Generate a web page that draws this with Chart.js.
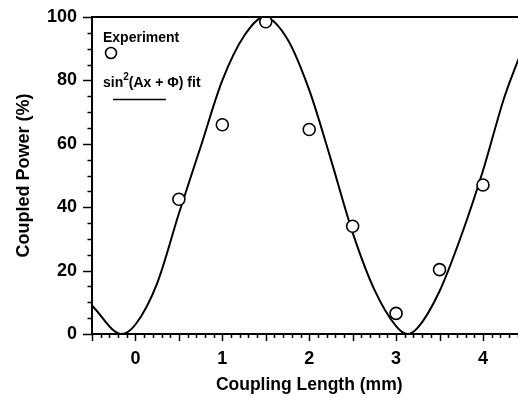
<!DOCTYPE html>
<html>
<head>
<meta charset="utf-8">
<script src="https://cdn.jsdelivr.net/npm/chart.js@4/dist/chart.umd.min.js"></script>
<style>
  html, body { margin: 0; padding: 0; background: #fff; overflow: hidden; }
  #grafico { display: block; }
</style>
</head>
<body>
<canvas id="grafico" width="534" height="398"></canvas>
<script>
// Medições (comprimento de acoplamento em mm, potência acoplada em %)
const expX = [0.5, 1.0, 1.5, 2.0, 2.5, 3.0, 3.5, 4.0];
const expY = [42.5, 66, 98.5, 64.5, 34, 6.5, 20.3, 47];

// Curva de ajuste sin^2 lida ponto a ponto
const fitX = [-0.5, -0.16, 0, 0.25, 0.5, 0.75, 1, 1.25, 1.485, 1.75, 2, 2.25, 2.5, 2.75, 3, 3.13, 3.25, 3.5, 3.75, 4, 4.25, 4.5];
const fitY = [9, 0, 3, 16, 38, 59, 80, 94, 100, 93, 77, 55, 32, 14, 2.5, 0, 2, 13.5, 31, 51.5, 75, 93];

const xTicks = [0, 1, 2, 3, 4];
const yTicks = [0, 20, 40, 60, 80, 100];

const fonte = '"Liberation Sans", Arial, Helvetica, sans-serif';

// Marcas menores dos eixos, moldura superior e legenda
const extras = {
  id: 'extras',
  afterDraw(chart) {
    const ctx = chart.ctx;
    const area = chart.chartArea;
    const sx = chart.scales.x;
    const sy = chart.scales.y;
    ctx.save();
    ctx.strokeStyle = '#000';
    ctx.fillStyle = '#000';

    // linha superior
    ctx.lineWidth = 2;
    ctx.beginPath();
    ctx.moveTo(area.left, area.top);
    ctx.lineTo(area.right, area.top);
    ctx.stroke();

    // marcas do eixo y a cada 5 %
    ctx.lineWidth = 1.5;
    for (let v = 0; v <= 100; v += 5) {
      const y = Math.round(sy.getPixelForValue(v)) + 0.5;
      const len = v % 20 === 0 ? 9 : 4.5;
      ctx.beginPath();
      ctx.moveTo(area.left, y);
      ctx.lineTo(area.left - len, y);
      ctx.stroke();
    }

    // marcas do eixo x a cada 0,1 mm
    for (let i = -5; i <= 45; i++) {
      const x = Math.round(sx.getPixelForValue(i / 10)) + 0.5;
      const len = i % 5 === 0 ? 7 : 4;
      ctx.beginPath();
      ctx.moveTo(x, area.bottom);
      ctx.lineTo(x, area.bottom + len);
      ctx.stroke();
    }

    // legenda
    ctx.font = 'bold 14px ' + fonte;
    ctx.textBaseline = 'alphabetic';
    ctx.textAlign = 'left';
    ctx.fillText('Experiment', 103, 41.5);

    ctx.lineWidth = 1.6;
    ctx.fillStyle = '#fff';
    ctx.beginPath();
    ctx.arc(111, 53, 5.5, 0, Math.PI * 2);
    ctx.fill();
    ctx.stroke();

    ctx.fillStyle = '#000';
    let x = 103;
    ctx.fillText('sin', x, 87);
    x += ctx.measureText('sin').width;
    ctx.font = 'bold 10px ' + fonte;
    ctx.fillText('2', x, 80);
    x += ctx.measureText('2').width;
    ctx.font = 'bold 14px ' + fonte;
    ctx.fillText('(Ax + \u03A6) fit', x, 87);

    ctx.lineWidth = 1.5;
    ctx.beginPath();
    ctx.moveTo(113, 99.5);
    ctx.lineTo(166, 99.5);
    ctx.stroke();

    ctx.restore();
  }
};

const ctx = document.getElementById('grafico').getContext('2d');

new Chart(ctx, {
  type: 'scatter',
  data: {
    datasets: [
      {
        label: 'Experiment',
        data: expX.map((x, i) => ({ x: x, y: expY[i] })),
        pointStyle: 'circle',
        pointRadius: 6,
        pointBorderWidth: 1.6,
        borderColor: '#000',
        backgroundColor: '#fff',
        showLine: false,
        order: 0
      },
      {
        label: 'sin²(Ax + Φ) fit',
        data: fitX.map((x, i) => ({ x: x, y: fitY[i] })),
        showLine: true,
        pointRadius: 0,
        borderColor: '#000',
        borderWidth: 2,
        cubicInterpolationMode: 'monotone',
        fill: false,
        order: 1
      }
    ]
  },
  options: {
    responsive: false,
    animation: false,
    devicePixelRatio: 1,
    layout: { padding: { left: 0, top: 17, right: 0, bottom: 0 } },
    plugins: {
      legend: { display: false },
      tooltip: { enabled: false }
    },
    scales: {
      x: {
        type: 'linear',
        min: -0.5,
        max: 4.5,
        afterBuildTicks: (s) => { s.ticks = xTicks.map(v => ({ value: v })); },
        afterFit: (s) => {
          s.height = 64;
          s.paddingLeft = 0;
          s.paddingRight = 0;
        },
        grid: { display: true, drawOnChartArea: false, drawTicks: false },
        border: { display: true, color: '#000', width: 2 },
        ticks: {
          color: '#000',
          padding: 14,
          maxRotation: 0,
          font: { family: fonte, size: 18, weight: 'bold' }
        },
        title: {
          display: true,
          text: 'Coupling Length (mm)',
          color: '#000',
          font: { family: fonte, size: 17.5, weight: 'bold' },
          padding: { top: 0, bottom: 2 }
        }
      },
      y: {
        min: 0,
        max: 100,
        afterBuildTicks: (s) => { s.ticks = yTicks.map(v => ({ value: v })); },
        afterFit: (s) => {
          s.width = 92;
          s.paddingTop = 0;
          s.paddingBottom = 0;
        },
        grid: { display: true, drawOnChartArea: false, drawTicks: false },
        border: { display: true, color: '#000', width: 2 },
        ticks: {
          color: '#000',
          padding: 15,
          font: { family: fonte, size: 18, weight: 'bold' }
        },
        title: {
          display: true,
          text: 'Coupled Power (%)',
          color: '#000',
          font: { family: fonte, size: 18, weight: 'bold' },
          padding: { top: 13, bottom: 0 }
        }
      }
    }
  },
  plugins: [extras]
});
</script>
</body>
</html>
